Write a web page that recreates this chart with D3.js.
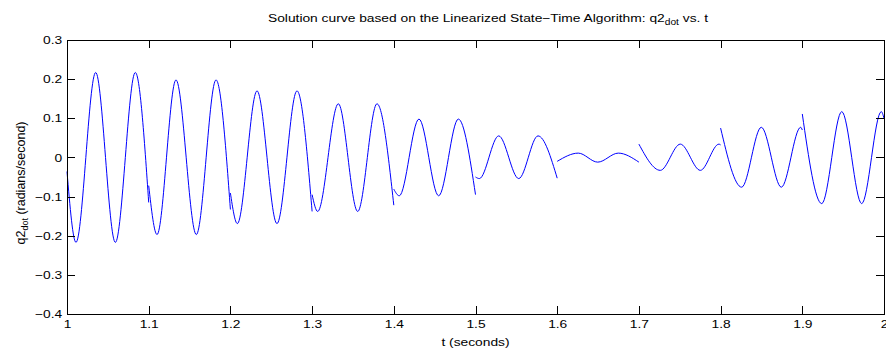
<!DOCTYPE html>
<html>
<head>
<meta charset="utf-8">
<script src="https://cdn.jsdelivr.net/npm/d3@7"></script>
<style>
  body { margin: 0; background: #fff; }
  svg { display: block; font-family: "Liberation Sans", Arial, Helvetica, sans-serif; }
  .axis text { font-size: 11.5px; fill: #000; }
  .axis path, .axis line { stroke: #000; shape-rendering: crispEdges; }
</style>
</head>
<body>
<div id="chart"></div>
<script>
// tick values and labels
const xTicks = [1, 1.1, 1.2, 1.3, 1.4, 1.5, 1.6, 1.7, 1.8, 1.9, 2];
const xTickLabels = ["1", "1.1", "1.2", "1.3", "1.4", "1.5", "1.6", "1.7", "1.8", "1.9", "2"];
const yTicks = [-0.4, -0.3, -0.2, -0.1, 0, 0.1, 0.2, 0.3];
const yTickLabels = ["\u22120.4", "\u22120.3", "\u22120.2", "\u22120.1", "0", "0.1", "0.2", "0.3"];

// solution curve, one piece per 0.1 s step: [t, q2dot] read at the ends and turning points
const seg1 = [[1.000, -0.036], [1.0110, -0.217], [1.0351, 0.217], [1.0592, -0.217], [1.0836, 0.217], [1.100, -0.115]];
const seg2 = [[1.100, -0.072], [1.1102, -0.197], [1.1334, 0.198], [1.1583, -0.197], [1.1824, 0.198], [1.200, -0.133]];
const seg3 = [[1.200, -0.091], [1.2085, -0.169], [1.2326, 0.170], [1.2570, -0.169], [1.2815, 0.170], [1.300, -0.138]];
const seg4 = [[1.300, -0.095], [1.3068, -0.138], [1.3321, 0.137], [1.3558, -0.138], [1.3794, 0.137], [1.400, -0.122]];
const seg5 = [[1.400, -0.081], [1.4067, -0.098], [1.4308, 0.098], [1.4549, -0.098], [1.4790, 0.098], [1.500, -0.095]];
const seg6 = [[1.500, -0.050], [1.5047, -0.054], [1.5284, 0.055], [1.5529, -0.054], [1.5765, 0.055], [1.600, -0.053]];
const seg7 = [[1.600, -0.010], [1.6258, 0.011], [1.6496, -0.012], [1.6748, 0.011], [1.700, -0.012]];
const seg8 = [[1.700, 0.034], [1.7262, -0.033], [1.7507, 0.034], [1.7752, -0.033], [1.7980, 0.034], [1.800, 0.032]];
const seg9 = [[1.800, 0.075], [1.8258, -0.076], [1.8498, 0.077], [1.8743, -0.076], [1.8980, 0.077], [1.900, 0.070]];
const seg10 = [[1.900, 0.111], [1.9238, -0.118], [1.9483, 0.117], [1.9727, -0.118], [1.9967, 0.117], [2.000, 0.100]];
const segments = [seg1, seg2, seg3, seg4, seg5, seg6, seg7, seg8, seg9, seg10];

const W = 886, H = 350;
const margin = {top: 40, right: 2, bottom: 36, left: 67};
const width = W - margin.left - margin.right;
const height = H - margin.top - margin.bottom;
const tick = 8;
const stretch = "scale(1.2, 1)"; // the labels in the picture run wide

const svg = d3.select("#chart").append("svg")
  .attr("width", W)
  .attr("height", H);

const g = svg.append("g")
  .attr("transform", `translate(${margin.left}, ${margin.top})`);

const x = d3.scaleLinear().domain([1, 2]).range([0, width]);
const y = d3.scaleLinear().domain([-0.4, 0.3]).range([height, 0]);

// curve first, the box sits on top of it
const line = d3.line()
  .x(d => x(d[0]))
  .y(d => y(d[1]))
  .curve(d3.curveMonotoneX);

g.append("g")
  .selectAll("path")
  .data(segments)
  .enter().append("path")
  .attr("d", line)
  .attr("fill", "none")
  .attr("stroke", "#0000ff")
  .attr("stroke-width", 1);

g.append("g")
  .attr("class", "axis")
  .attr("transform", `translate(0, ${height})`)
  .call(d3.axisBottom(x).tickValues(xTicks).tickSizeInner(-tick).tickSizeOuter(0).tickPadding(6)
    .tickFormat((d, i) => xTickLabels[i]))
  .selectAll("text").attr("transform", stretch);

g.append("g")
  .attr("class", "axis")
  .call(d3.axisTop(x).tickValues(xTicks).tickSizeInner(-tick).tickSizeOuter(0).tickFormat(""));

g.append("g")
  .attr("class", "axis")
  .call(d3.axisLeft(y).tickValues(yTicks).tickSizeInner(-tick).tickSizeOuter(0).tickPadding(4)
    .tickFormat((d, i) => yTickLabels[i]))
  .selectAll("text").attr("transform", stretch);

g.append("g")
  .attr("class", "axis")
  .attr("transform", `translate(${width}, 0)`)
  .call(d3.axisRight(y).tickValues(yTicks).tickSizeInner(-tick).tickSizeOuter(0).tickFormat(""));

// title
const title = svg.append("g")
  .attr("transform", `translate(488, 22) ${stretch}`)
  .append("text")
  .attr("text-anchor", "middle")
  .style("font-size", "11.5px");
title.append("tspan").text("Solution curve based on the Linearized State\u2212Time Algorithm: q2");
title.append("tspan").attr("dy", 3).style("font-size", "8.5px").text("dot");
title.append("tspan").attr("dy", -3).text(" vs. t");

// x label
svg.append("g")
  .attr("transform", `translate(${margin.left + width / 2}, ${H - 4}) ${stretch}`)
  .append("text")
  .attr("text-anchor", "middle")
  .style("font-size", "11.5px")
  .text("t (seconds)");

// y label
const yLabel = svg.append("text")
  .attr("transform", `translate(25, ${margin.top + height / 2 + 6}) rotate(-90)`)
  .attr("text-anchor", "middle")
  .style("font-size", "12.5px");
yLabel.append("tspan").text("q2");
yLabel.append("tspan").attr("dy", 3).style("font-size", "9px").text("dot");
yLabel.append("tspan").attr("dy", -3).text(" (radians/second)");
</script>
</body>
</html>
